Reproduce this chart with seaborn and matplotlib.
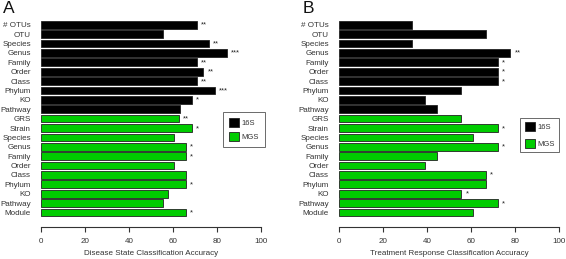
import matplotlib
matplotlib.use("Agg")
import matplotlib.pyplot as plt
import matplotlib.patches as mpatches
import seaborn as sns
import pandas as pd

# ---- data ----
labels = ["# OTUs", "OTU", "Species", "Genus", "Family", "Order", "Class", "Phylum",
          "KO", "Pathway", "GRS", "Strain", "Species", "Genus", "Family", "Order",
          "Class", "Phylum", "KO", "Pathway", "Module"]
groups = ["16S"] * 10 + ["MGS"] * 11

disease_acc = [71.0, 55.5, 76.5, 84.4, 71.0, 73.8, 71.0, 79.0, 68.7, 63.4,
               62.7, 68.5, 60.5, 65.8, 65.8, 60.5, 65.8, 65.8, 57.9, 55.4, 65.8]
disease_sig = ["**", "", "**", "***", "**", "**", "**", "***", "*", "",
               "**", "*", "", "*", "*", "", "", "*", "", "", "*"]

treat_acc = [33.3, 66.7, 33.3, 77.8, 72.2, 72.2, 72.2, 55.6, 38.9, 44.4,
             55.6, 72.2, 61.1, 72.2, 44.4, 38.9, 66.7, 66.7, 55.6, 72.2, 61.1]
treat_sig = ["", "", "", "**", "*", "*", "*", "", "", "",
             "", "*", "", "*", "", "", "*", "", "*", "*", ""]

palette = {"16S": "#000000", "MGS": "#00cc00"}

sns.set_style("white")
plt.rcParams["font.family"] = ["Liberation Sans", "DejaVu Sans"]

fig = plt.figure(figsize=(5.66, 2.59), dpi=100)


def draw_panel(rect, acc, sig, xlabel, letter, letter_x, legend_loc, legend_anchor,
               bpad, lspace):
    ax = fig.add_axes(rect)
    df = pd.DataFrame({"row": range(len(labels)), "acc": acc, "group": groups})
    sns.barplot(data=df, x="acc", y="row", hue="group", palette=palette,
                orient="h", dodge=False, width=0.82, edgecolor="#222222",
                linewidth=0.6, saturation=1, legend=False, ax=ax)
    for i, (v, s) in enumerate(zip(acc, sig)):
        if s:
            ax.annotate(s, (v, i), xytext=(3, -0.3), textcoords="offset points",
                        ha="left", va="center", fontsize=5.5, color="#222222")
    ax.set_xlim(0, 100)
    ax.set_ylim(len(labels) - 0.4, -0.6)
    ax.set_xticks(range(0, 101, 20))
    ax.set_yticks(range(len(labels)))
    ax.set_yticklabels(labels)
    ax.set_ylabel("")
    ax.set_xlabel(xlabel, fontsize=5.8, color="#333333", labelpad=4)
    for side in ["top", "right", "left"]:
        ax.spines[side].set_visible(False)
    ax.spines["bottom"].set_position(("outward", 6.5))
    ax.spines["bottom"].set_color("#333333")
    ax.spines["bottom"].set_linewidth(0.8)
    ax.tick_params(axis="x", direction="out", length=3.5, width=0.8,
                   color="#333333", labelsize=5.8, labelcolor="#333333", pad=4,
                   bottom=True)
    ax.tick_params(axis="y", length=0, labelsize=5.8, labelcolor="#333333", pad=7)
    handles = [mpatches.Patch(facecolor=palette[g], edgecolor="#222222",
                              linewidth=0.6, label=g) for g in ["16S", "MGS"]]
    leg = fig.legend(handles=handles, loc=legend_loc, bbox_to_anchor=legend_anchor,
                     frameon=True, fancybox=False, fontsize=5.5, handlelength=1.3,
                     handleheight=1.4, handletextpad=0.4, borderpad=bpad,
                     labelspacing=lspace, labelcolor="#333333", borderaxespad=0)
    leg.get_frame().set_edgecolor("#444444")
    leg.get_frame().set_linewidth(0.7)
    fig.text(letter_x, 0.995, letter, fontsize=12.5, ha="left", va="top", color="#111111")
    return ax


draw_panel([0.0719, 0.158, 0.3892, 0.768], disease_acc, disease_sig,
           "Disease State Classification Accuracy", "A", 0.005,
           "upper left", (0.3935, 0.5687), 0.8, 0.7)
draw_panel([0.5984, 0.158, 0.3898, 0.768], treat_acc, treat_sig,
           "Treatment Response Classification Accuracy", "B", 0.534,
           "upper right", (0.988, 0.5444), 0.55, 1.0)

fig.savefig("out.png", dpi=100)
